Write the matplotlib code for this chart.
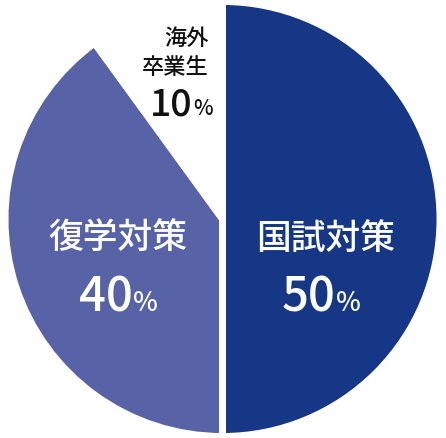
import matplotlib.pyplot as plt

labels = ["国試対策", "復学対策", "海外\n卒業生"]
shares = [50, 40, 10]
colors = ["#163785", "#5862a6", "#ffffff"]

plt.rcParams['font.family'] = ['Noto Sans CJK JP', 'DejaVu Sans']

fig = plt.figure(figsize=(4.46, 4.39), dpi=100)
ax = fig.add_axes([0, 0, 1, 1])

R = 217.5  # pie radius in pixels, centre at (222, 220) from top-left
cx, cy = 222.5, 220.0

def px(x, y):
  return (x - cx) / R, (cy - y) / R

ax.pie(shares, colors=colors, startangle=90, counterclock=False, radius=1,
       wedgeprops=dict(edgecolor="white", linewidth=5))
ax.set_xlim(-cx / R, (446 - cx) / R)
ax.set_ylim(-(439 - cy) / R, cy / R)
ax.set_aspect("auto")
ax.axis("off")

# big labels on the coloured slices
big = [(labels[0], 326, 239, 336, "white"), (labels[1], 118, 238, 133, "white")]
for (name, x, y, split, col), v in zip(big, shares[:2]):
  ax.text(*px(x, y), name, ha="center", va="center", fontsize=25,
          color=col, fontweight="medium")
  ax.text(*px(split, 311), str(v), ha="right", va="baseline", fontsize=34,
          color=col, fontweight="medium")
  ax.text(*px(split, 311), "%", ha="left", va="baseline", fontsize=19,
          color=col, fontweight="medium")

# small label on the white slice
ax.text(*px(209, 53), labels[2], ha="right", va="center", fontsize=16,
        color="#111111", fontweight="medium", linespacing=1.3)
ax.text(*px(193, 115), str(shares[2]), ha="right", va="baseline", fontsize=27,
        color="#111111", fontweight="medium")
ax.text(*px(193, 115), "%", ha="left", va="baseline", fontsize=15,
        color="#111111", fontweight="medium")

fig.savefig("out.png", dpi=100)
